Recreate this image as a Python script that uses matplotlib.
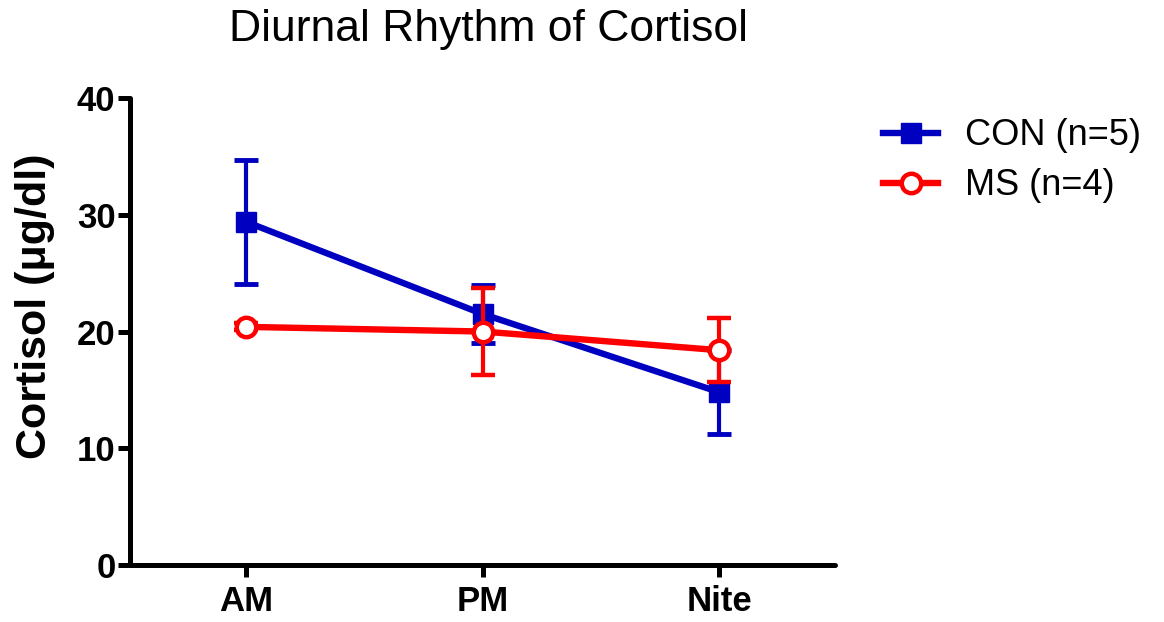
import matplotlib
matplotlib.use("Agg")
import matplotlib.pyplot as plt
from matplotlib.lines import Line2D

# Cortisol measurements across the day
times = ["AM", "PM", "Nite"]
con_mean = [29.4, 21.5, 14.8]
con_sem = [5.3, 2.5, 3.6]
ms_mean = [20.4, 20.0, 18.4]
ms_sem = [0.3, 3.7, 2.75]

plt.rcParams["font.family"] = ["Liberation Sans", "DejaVu Sans"]

fig = plt.figure(figsize=(11.64, 6.22), dpi=100)
ax = fig.add_axes([0.1117, 0.0916, 0.606, 0.7508])

blue = "#0000C0"
red = "#FF0000"
x = list(range(len(times)))

line_w = 4.6
ax.errorbar(x, con_mean, yerr=con_sem, color=blue, lw=line_w, marker="s",
            markersize=14, markerfacecolor=blue, markeredgecolor=blue,
            elinewidth=3, capsize=8.5, capthick=3.5, zorder=3,
            label="CON (n=5)")
ax.errorbar(x, ms_mean, yerr=ms_sem, color=red, lw=line_w, marker="o",
            markersize=14, markerfacecolor="white", markeredgecolor=red,
            markeredgewidth=3.2, elinewidth=3, capsize=8.5, capthick=3.5,
            zorder=4, label="MS (n=4)")

ax.set_xlim(-0.49, 2.49)
ax.set_ylim(0, 40)
ax.set_xticks(x)
ax.set_xticklabels(times)
ax.set_yticks([0, 10, 20, 30, 40])

for side in ("top", "right"):
    ax.spines[side].set_visible(False)
for side in ("left", "bottom"):
    ax.spines[side].set_linewidth(3.6)
    ax.spines[side].set_capstyle("round")

ax.tick_params(axis="both", direction="out", width=3.6, length=8.5,
               labelsize=25)
ax.tick_params(axis="x", pad=6)
ax.tick_params(axis="y", pad=2)
for lbl in ax.get_xticklabels() + ax.get_yticklabels():
    lbl.set_fontweight("bold")

fig.text(0.03, 1 - 306 / 622, "Cortisol (\u03bcg/dl)", fontsize=31,
         fontweight="bold", rotation=90, ha="center", va="center")
fig.text(0.42, 0.953, "Diurnal Rhythm of Cortisol", fontsize=32,
         ha="center", va="center")

handles = [
    Line2D([], [], color=blue, lw=line_w, marker="s", markersize=14,
           markerfacecolor=blue, markeredgecolor=blue),
    Line2D([], [], color=red, lw=line_w, marker="o", markersize=14,
           markerfacecolor="white", markeredgecolor=red, markeredgewidth=3.2),
]
fig.legend(handles, ["CON (n=5)", "MS (n=4)"], loc="upper left",
           bbox_to_anchor=(0.759, 0.81), frameon=False, fontsize=26,
           handlelength=1.5, handletextpad=0.75, labelspacing=0.42,
           borderaxespad=0, borderpad=0)

fig.savefig("out.png", dpi=100)
